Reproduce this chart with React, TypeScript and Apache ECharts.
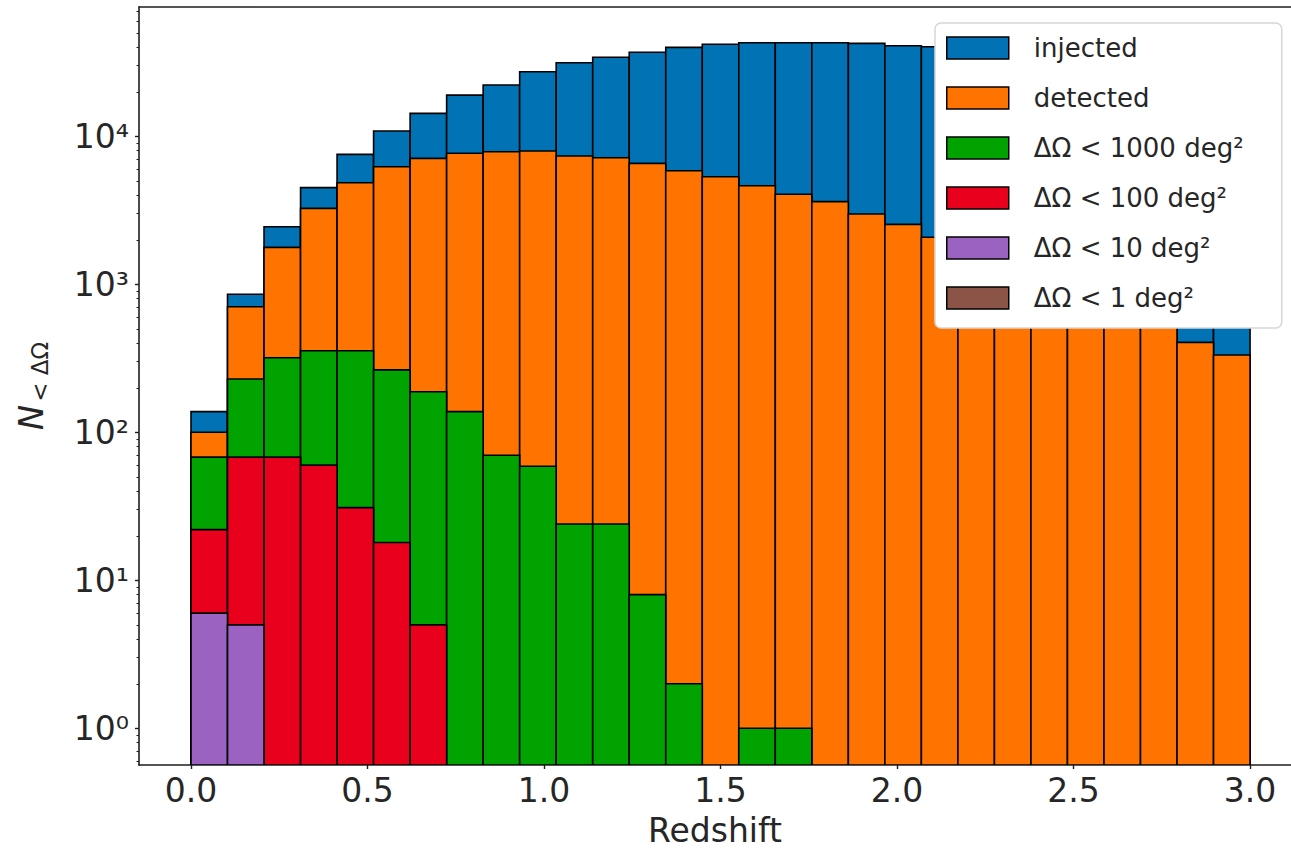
import React, { useEffect, useRef } from 'react';
import * as echarts from 'echarts';

// ---- data ----
const Z_MIN = 0;
const Z_MAX = 3;
const N_BINS = 29;

const seriesNames = [
  'injected',
  'detected',
  'ΔΩ < 1000 deg²',
  'ΔΩ < 100 deg²',
  'ΔΩ < 10 deg²',
  'ΔΩ < 1 deg²',
];
const seriesColors = ['#0173b5', '#ff7400', '#00a300', '#e8001c', '#9b62c2', '#8c5446'];

const injected = [
  138, 856, 2450, 4500, 7550, 10860, 14300, 19000, 22200, 27300, 31400, 34200, 37000, 39900,
  41900, 42900, 42900, 42900, 42500, 40900, 40300, 38500, 36200, 33500, 30800, 27600, 24300,
  20600, 17200,
];
const detected = [
  100, 706, 1778, 3260, 4860, 6230, 7100, 7680, 7870, 7960, 7360, 7170, 6570, 5860, 5330, 4640,
  4060, 3620, 2990, 2540, 2080, 1700, 1390, 1160, 930, 760, 600, 405, 333,
];
const lt1000 = [
  68, 229, 319, 356, 356, 264, 188, 138, 70, 59, 24, 24, 8, 2, 0, 1, 1, 0, 0, 0, 0, 0, 0, 0, 0,
  0, 0, 0, 0,
];
const lt100 = [
  22, 68, 68, 60, 31, 18, 5, 0, 0, 0, 0, 0, 0, 0, 0, 0, 0, 0, 0, 0, 0, 0, 0, 0, 0, 0, 0, 0, 0,
];
const lt10 = [
  6, 5, 0, 0, 0, 0, 0, 0, 0, 0, 0, 0, 0, 0, 0, 0, 0, 0, 0, 0, 0, 0, 0, 0, 0, 0, 0, 0, 0,
];
const lt1 = [
  0, 0, 0, 0, 0, 0, 0, 0, 0, 0, 0, 0, 0, 0, 0, 0, 0, 0, 0, 0, 0, 0, 0, 0, 0, 0, 0, 0, 0,
];
const allValues = [injected, detected, lt1000, lt100, lt10, lt1];

const xTickValues = [0, 0.5, 1.0, 1.5, 2.0, 2.5, 3.0];
const yTickValues = [1, 10, 100, 1000, 10000];
const yTickLabels: Record<number, string> = {
  1: '10⁰',
  10: '10¹',
  100: '10²',
  1000: '10³',
  10000: '10⁴',
};
const yMinorTickValues = [
  0.6, 0.7, 0.8, 0.9, 2, 3, 4, 5, 6, 7, 8, 9, 20, 30, 40, 50, 60, 70, 80, 90, 200, 300, 400, 500,
  600, 700, 800, 900, 2000, 3000, 4000, 5000, 6000, 7000, 8000, 9000, 20000, 30000, 40000, 50000,
  60000, 70000,
];

// axis extents
const X_MIN = -0.1473;
const X_MAX = 3.116;
const Y_MIN = 0.565;
const Y_MAX = 74800;

const FONT = 'DejaVu Sans';
const TEXT_COLOR = '#262626';
const AXIS_COLOR = '#1e1e1e';

export default function App() {
  const ref = useRef<HTMLDivElement>(null);

  useEffect(() => {
    if (!ref.current) return;
    const chart = echarts.init(ref.current, undefined, { renderer: 'svg' });
    const binWidth = (Z_MAX - Z_MIN) / N_BINS;

    const series = allValues.map((vals, si) => ({
      type: 'custom',
      name: seriesNames[si],
      xAxisIndex: 0,
      yAxisIndex: 0,
      clip: true,
      itemStyle: { color: seriesColors[si], borderColor: '#000', borderWidth: 1.6 },
      encode: { x: [0, 1], y: 2 },
      data: vals.map((v, i) => [Z_MIN + i * binWidth, Z_MIN + (i + 1) * binWidth, v]),
      renderItem: (params: any, api: any) => {
        const v = api.value(2);
        if (!(v > 0)) return null;
        const tl = api.coord([api.value(0), v]);
        const br = api.coord([api.value(1), Y_MIN]);
        return {
          type: 'rect',
          shape: { x: tl[0], y: tl[1], width: br[0] - tl[0], height: br[1] - tl[1] },
          style: { fill: seriesColors[si], stroke: '#000', lineWidth: 1.6 },
        };
      },
    }));

    const option: any = {
      animation: false,
      backgroundColor: '#fff',
      grid: { left: 139, top: 7, right: 0, bottom: 87, containLabel: false },
      xAxis: [
        {
          type: 'value',
          min: X_MIN,
          max: X_MAX,
          position: 'bottom',
          splitLine: { show: false },
          axisLine: { show: true, onZero: false, lineStyle: { color: AXIS_COLOR, width: 1.6 } },
          axisTick: {
            show: true,
            length: 4,
            customValues: xTickValues,
            lineStyle: { color: AXIS_COLOR, width: 1.4 },
          },
          axisLabel: {
            customValues: xTickValues,
            formatter: (v: number) => v.toFixed(1),
            fontFamily: FONT,
            fontSize: 33,
            color: TEXT_COLOR,
            margin: 9,
          },
          name: 'Redshift',
          nameLocation: 'middle',
          nameGap: 49,
          nameTextStyle: { fontFamily: FONT, fontSize: 33, color: TEXT_COLOR },
        },
        {
          type: 'value',
          min: X_MIN,
          max: X_MAX,
          position: 'top',
          splitLine: { show: false },
          axisLine: { show: true, onZero: false, lineStyle: { color: AXIS_COLOR, width: 1.6 } },
          axisTick: { show: false },
          axisLabel: { show: false },
        },
      ],
      yAxis: [
        {
          type: 'log',
          logBase: 10,
          min: Y_MIN,
          max: Y_MAX,
          position: 'left',
          splitLine: { show: false },
          axisLine: { show: true, onZero: false, lineStyle: { color: AXIS_COLOR, width: 1.6 } },
          axisTick: {
            show: true,
            length: 4,
            customValues: yTickValues,
            lineStyle: { color: AXIS_COLOR, width: 1.4 },
          },
          axisLabel: {
            customValues: yTickValues,
            formatter: (v: number) => {
              const key = Math.round(v);
              return yTickLabels[key] ?? '';
            },
            fontFamily: FONT,
            fontSize: 33,
            color: TEXT_COLOR,
            margin: 10,
          },
          name: '{n|N}{s|< ΔΩ}',
          nameLocation: 'middle',
          nameGap: 88,
          nameRotate: 90,
          nameTextStyle: {
            fontFamily: FONT,
            color: TEXT_COLOR,
            rich: {
              n: { fontFamily: FONT, fontStyle: 'italic', fontSize: 34, color: TEXT_COLOR, lineHeight: 40 },
              s: {
                fontFamily: FONT,
                fontSize: 23,
                color: TEXT_COLOR,
                lineHeight: 40,
                verticalAlign: 'bottom',
                padding: [0, 0, 0, 3],
              },
            },
          },
        },
        {
          type: 'log',
          logBase: 10,
          min: Y_MIN,
          max: Y_MAX,
          position: 'left',
          splitLine: { show: false },
          axisLine: { show: false, onZero: false },
          axisTick: {
            show: true,
            length: 2.5,
            customValues: yMinorTickValues,
            lineStyle: { color: AXIS_COLOR, width: 1 },
          },
          axisLabel: { show: false },
        },
      ],
      legend: {
        orient: 'vertical',
        left: 935,
        top: 23,
        padding: [10, 12, 15, 11],
        itemWidth: 62,
        itemHeight: 22,
        itemGap: 20,
        icon: 'rect',
        backgroundColor: '#ffffff',
        borderColor: '#d6d6d6',
        borderWidth: 1.5,
        borderRadius: 6,
        itemStyle: { borderColor: '#000', borderWidth: 1.5 },
        textStyle: {
          fontFamily: FONT,
          fontSize: 26,
          color: TEXT_COLOR,
          lineHeight: 30,
          width: 236,
          padding: [0, 0, 0, 20],
        },
        data: seriesNames,
      },
      series,
    };

    chart.setOption(option);
    return () => chart.dispose();
  }, []);

  return (
    <div
      ref={ref}
      style={{ position: 'fixed', left: 0, top: 0, width: 1291, height: 852, background: '#fff' }}
    />
  );
}
